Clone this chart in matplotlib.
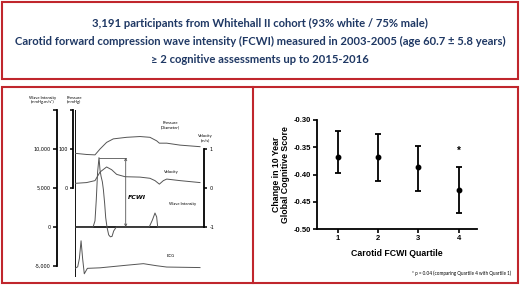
import numpy as np
import matplotlib
matplotlib.use('Agg')
import matplotlib.pyplot as plt
from matplotlib.patches import Rectangle
from matplotlib.lines import Line2D

# texto do topo
header = [
    "3,191 participants from Whitehall II cohort (93% white / 75% male)",
    "Carotid forward compression wave intensity (FCWI) measured in 2003-2005 (age 60.7 \u00b1 5.8 years)",
    "\u2265 2 cognitive assessments up to 2015-2016",
]

# formas de onda (tempo em ms)
t_pressure = [0, 90, 155, 194, 245, 297, 400, 504, 581, 633, 654, 711, 814, 969]
pressure = [89, 86, 85, 100, 117, 126, 130, 132, 130, 121, 115, 115, 110, 106]

t_velocity = [0, 90, 155, 194, 245, 284, 323, 388, 504, 581, 620, 654, 685, 711, 814, 969]
velocity = [0.12, 0.14, 0.19, 0.41, 0.54, 0.47, 0.35, 0.29, 0.28, 0.25, 0.19, 0.10, 0.19, 0.23, 0.19, 0.14]

t_wi = [0, 140, 155, 165, 175, 186, 194, 202, 212, 220, 230, 238, 248, 261, 274, 287, 300, 320,
        575, 600, 620, 633, 641, 1000]
wave_intensity = [0, 0, 800, 3500, 7000, 8900, 7300, 6500, 5800, 4800, 3000, 1200, 0, -1000, -1250,
                  -1200, -500, 0, 0, 900, 1800, 1300, 0, 0]

t_ecg = [0, 21, 34, 47, 59, 72, 96, 194, 400, 530, 633, 711, 969]
ecg = [-0.06, 0.0, 0.32, 1.0, 0.32, -0.27, -0.06, -0.04, 0.06, 0.12, 0.04, -0.01, -0.03]

# quartis de FCWI
quartis = [1, 2, 3, 4]
media = [-0.367, -0.368, -0.387, -0.429]
ic_inf = [-0.398, -0.412, -0.430, -0.470]
ic_sup = [-0.320, -0.326, -0.347, -0.387]

red = '#c0262d'
navy = '#1f3864'
wave_col = '#555555'

W, H = 520, 285
fig = plt.figure(figsize=(W / 100, H / 100), dpi=100)

def fx(px):
    return px / W

def fy(py):
    return 1 - py / H

# caixas vermelhas
fig.add_artist(Rectangle((fx(2), fy(79)), fx(516), 77 / H, transform=fig.transFigure,
                         fill=False, ec=red, lw=1.5))
fig.add_artist(Rectangle((fx(2), fy(283)), fx(516), 196 / H, transform=fig.transFigure,
                         fill=False, ec=red, lw=1.5))
fig.add_artist(Line2D([fx(253), fx(253)], [fy(87), fy(283)], transform=fig.transFigure,
                      color=red, lw=1.5))

for i, linha in enumerate(header):
    fig.text(0.5, fy(23.5 + 18 * i), linha, ha='center', va='center', color=navy,
             fontsize=8.1, fontweight='bold', family='Lato')

# painel esquerdo: formas de onda
wi_lim = (-6400, 15000)
ax = fig.add_axes([fx(75), fy(277), fx(129), 167 / H])
ax.set_xlim(0, 1000)
ax.set_ylim(*wi_lim)
ax.patch.set_alpha(0)
for s in ['top', 'right', 'bottom']:
    ax.spines[s].set_visible(False)
ax.spines['left'].set_position(('outward', 13))
ax.spines['left'].set_bounds(-5000, 15000)
ax.spines['left'].set_linewidth(1.3)
ax.set_xticks([])
ax.set_yticks([-5000, 0, 5000, 10000, 15000])
ax.set_yticklabels(['-5,000', '0', '5,000', '10,000', ''])
ax.tick_params(axis='y', length=3, width=1.1, labelsize=3.5, pad=1.5)
ax.axvline(0, color='black', lw=1.3)
ax.axhline(0, color='black', lw=1.2)

ax.plot(t_wi, wave_intensity, color=wave_col, lw=0.7)
i_pk = int(np.argmax(wave_intensity))
wi_pk = wave_intensity[i_pk]
t_fcwi = 393
ax.plot([t_wi[i_pk], t_fcwi], [wi_pk, wi_pk], color=wave_col, lw=0.6)
ax.annotate('', xy=(t_fcwi, wi_pk), xytext=(t_fcwi, 0),
            arrowprops=dict(arrowstyle='<->', color=wave_col, lw=0.6,
                            mutation_scale=4, shrinkA=0, shrinkB=0))
ax.text(t_fcwi + 15, 3800, 'FCWI', fontsize=4.5, fontweight='bold', style='italic',
        va='center', ha='left')
ax.text(835, 2950, 'Wave Intensity', fontsize=3, ha='center', va='center', family='Lato')

ax_p = ax.twinx()
ax_p.set_ylim((wi_lim[0] - 5000) / 50, (wi_lim[1] - 5000) / 50)
for s in ['top', 'right', 'bottom']:
    ax_p.spines[s].set_visible(False)
ax_p.spines['left'].set_visible(True)
ax_p.spines['left'].set_position(('outward', 1.5))
ax_p.spines['left'].set_bounds(0, 200)
ax_p.spines['left'].set_linewidth(1.3)
ax_p.yaxis.tick_left()
ax_p.set_yticks([0, 100, 200])
ax_p.set_yticklabels(['0', '100', ''])
ax_p.tick_params(axis='y', length=2.5, width=1.1, labelsize=3.5, pad=1.5)
ax_p.plot(t_pressure, pressure, color=wave_col, lw=0.7)
ax_p.text(742, 160, 'Pressure\n(Diameter)', fontsize=3, ha='center', va='center',
          family='Lato', linespacing=1.1)

ax_v = ax.twinx()
ax_v.set_ylim((wi_lim[0] - 5000) / 5000, (wi_lim[1] - 5000) / 5000)
for s in ['top', 'left', 'bottom']:
    ax_v.spines[s].set_visible(False)
ax_v.spines['right'].set_bounds(-1, 1)
ax_v.spines['right'].set_linewidth(1.3)
ax_v.set_yticks([-1, 0, 1])
ax_v.set_yticklabels(['-1', '0', '1'])
ax_v.tick_params(axis='y', length=2.5, width=1.1, labelsize=3.5, pad=1.5)
ax_v.plot(t_velocity, velocity, color=wave_col, lw=0.7)
ax_v.text(749, 0.41, 'Velocity', fontsize=3, ha='center', va='center', family='Lato')
ax_v.text(1008, 1.28, 'Velocity\n(m/s)', fontsize=3, ha='center', va='center',
          family='Lato', linespacing=1.1, clip_on=False)

ax_e = ax.twinx()
ax_e.set_ylim(-0.393, 6.03)
ax_e.axis('off')
ax_e.plot(t_ecg, ecg, color=wave_col, lw=0.7)
ax_e.text(742, 0.42, 'ECG', fontsize=3, ha='center', va='center', family='Lato')

fig.text(fx(43), fy(100), 'Wave Intensity\n(mmHg.m/s\u00b2)', fontsize=3, ha='center',
         va='center', family='Lato', linespacing=1.1)
fig.text(fx(74), fy(100), 'Pressure\n(mmHg)', fontsize=3, ha='center', va='center',
         family='Lato', linespacing=1.1)

# painel direito: declinio cognitivo por quartil
ax2 = fig.add_axes([fx(317.3), fy(229), fx(159.7), 109 / H])
yerr = [np.array(media) - np.array(ic_inf), np.array(ic_sup) - np.array(media)]
ax2.errorbar(quartis, media, yerr=yerr, fmt='o', color='black', ms=3.2, elinewidth=1.3,
             capsize=2.2, capthick=1.3, clip_on=False)
ax2.text(quartis[3], -0.357, '*', ha='center', va='center', fontsize=7, fontweight='bold',
         family='Liberation Sans')
ax2.set_xlim(0.5, 4.45)
ax2.set_ylim(-0.50, -0.30)
ax2.set_xticks(quartis)
ax2.set_yticks([-0.50, -0.45, -0.40, -0.35, -0.30])
ax2.set_yticklabels(['-0.50', '-0.45', '-0.40', '-0.35', '-0.30'])
for s in ['top', 'right']:
    ax2.spines[s].set_visible(False)
for s in ['left', 'bottom']:
    ax2.spines[s].set_linewidth(1.3)
ax2.tick_params(length=3, width=1.2, labelsize=5.5, pad=1.5)
for lb in ax2.get_xticklabels() + ax2.get_yticklabels():
    lb.set_fontweight('bold')
    lb.set_family('Liberation Sans')
ax2.set_ylabel('Change in 10 Year\nGlobal Cognitive Score', fontsize=6.3, fontweight='bold',
               family='Liberation Sans', labelpad=3, linespacing=1.0)
ax2.set_xlabel('Carotid FCWI Quartile', fontsize=6.3, fontweight='bold',
               family='Liberation Sans', labelpad=5)

fig.text(fx(511), fy(273), '* p = 0.04 (comparing Quartile 4 with Quartile 1)', fontsize=3.3,
         ha='right', va='center', family='Lato')

fig.savefig('out.png', dpi=100)
